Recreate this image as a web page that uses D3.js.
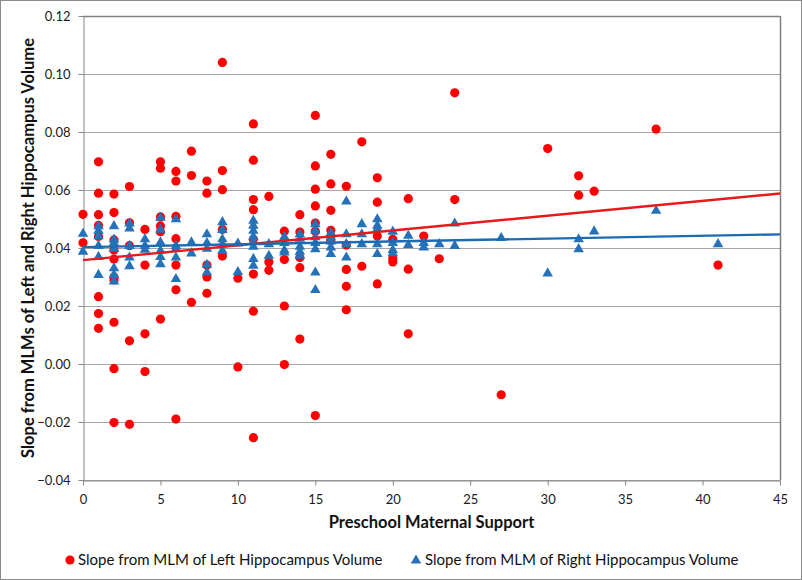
<!DOCTYPE html>
<html><head><meta charset="utf-8">
<script src="https://cdn.jsdelivr.net/npm/d3@7"></script>
<style>
html,body{margin:0;padding:0;background:#fff;}
svg{display:block;font-family:Lato,"Open Sans",sans-serif;}
</style></head>
<body><svg id="chart" width="802" height="580"></svg>
<script>
// ---- data ----
const xTicks = [0,5,10,15,20,25,30,35,40,45];
const yTicks = [-0.04,-0.02,0.00,0.02,0.04,0.06,0.08,0.10,0.12];
const seriesNames = ["Slope from MLM of Left Hippocampus Volume","Slope from MLM of Right Hippocampus Volume"];

const leftX = [0,0, 1,1,1,1,1,1,1,1, 2,2,2,2,2,2,2,2,2,2, 3,3,3,3,3, 4,4,4,4, 5,5,5,5,5,5,
  6,6,6,6,6,6,6, 7,7,7, 8,8,8,8,8, 9,9,9,9,9, 10,10, 11,11,11,11,11,11,11,11, 12,12,12,
  13,13,13,13, 14,14,14,14,14, 15,15,15,15,15,15,15, 16,16,16,16,16,16, 17,17,17,17,17,
  18,18, 19,19,19,19, 20,20,20, 21,21,21, 22, 23, 24,24, 27, 30, 32,32, 33, 37, 41];
const leftY = [0.0516,0.0418,
  0.0697,0.0589,0.0515,0.0478,0.0440,0.0232,0.0174,0.0123,
  0.0586,0.0522,0.0428,0.0393,0.0362,0.0300,0.0290,0.0144,-0.0016,-0.0202,
  0.0612,0.0487,0.0408,0.0080,-0.0208,
  0.0464,0.0341,0.0104,-0.0026,
  0.0697,0.0675,0.0507,0.0476,0.0456,0.0155,
  0.0664,0.0631,0.0509,0.0432,0.0341,0.0256,-0.0190,
  0.0734,0.0650,0.0213,
  0.0631,0.0589,0.0341,0.0300,0.0244,
  0.1040,0.0667,0.0601,0.0464,0.0372,
  0.0296,-0.0010,
  0.0828,0.0703,0.0567,0.0532,0.0430,0.0310,0.0182,-0.0254,
  0.0578,0.0352,0.0323,
  0.0458,0.0360,0.0200,-0.0002,
  0.0515,0.0455,0.0367,0.0332,0.0086,
  0.0857,0.0683,0.0603,0.0545,0.0486,0.0458,-0.0178,
  0.0723,0.0621,0.0530,0.0461,0.0440,0.0425,
  0.0613,0.0410,0.0326,0.0268,0.0187,
  0.0766,0.0337,
  0.0642,0.0558,0.0441,0.0276,
  0.0430,0.0364,0.0352,
  0.0570,0.0327,0.0104,
  0.0441, 0.0363, 0.0935,0.0567, -0.0106, 0.0743, 0.0649,0.0582, 0.0596, 0.0810, 0.0341];

const rightX = [0,0, 1,1,1,1,1,1, 2,2,2,2,2,2,2, 3,3,3,3,3, 4,4,4, 5,5,5,5,5,5, 6,6,6,6,6,
  7,7, 8,8,8,8,8, 9,9,9,9,9, 10,10, 11,11,11,11,11,11,11,11, 12,12, 13,13,13,13,
  14,14,14,14,14, 15,15,15,15,15,15,15, 16,16,16,16,16, 17,17,17,17, 18,18,18,
  19,19,19,19,19, 20,20,20,20, 21,21, 22,22, 23, 24,24, 27, 30, 32,32, 33, 37, 41];
const rightY = [0.0452,0.0390,
  0.0478,0.0462,0.0443,0.0410,0.0372,0.0310,
  0.0478,0.0432,0.0420,0.0400,0.0333,0.0310,0.0287,
  0.0487,0.0470,0.0410,0.0370,0.0340,
  0.0433,0.0410,0.0397,
  0.0507,0.0466,0.0422,0.0393,0.0372,0.0347,
  0.0502,0.0410,0.0400,0.0370,0.0296,
  0.0422,0.0384,
  0.0450,0.0420,0.0400,0.0345,0.0318,
  0.0492,0.0465,0.0433,0.0415,0.0393,
  0.0418,0.0320,
  0.0497,0.0480,0.0462,0.0442,0.0425,0.0407,0.0365,0.0342,
  0.0416,0.0376,
  0.0441,0.0420,0.0395,0.0387,
  0.0450,0.0435,0.0407,0.0390,0.0376,
  0.0485,0.0462,0.0440,0.0420,0.0399,0.0318,0.0258,
  0.0455,0.0440,0.0425,0.0405,0.0382,
  0.0563,0.0450,0.0416,0.0370,
  0.0485,0.0450,0.0416,
  0.0502,0.0480,0.0468,0.0416,0.0382,
  0.0459,0.0420,0.0396,0.0385,
  0.0445,0.0413,
  0.0420,0.0405, 0.0416, 0.0487,0.0410, 0.0437, 0.0315, 0.0433,0.0399, 0.0460, 0.0531, 0.0416];

// linear trend line endpoints
const trendLeftX = [0,45], trendLeftY = [0.0358,0.0588];
const trendRightX = [0,45], trendRightY = [0.0403,0.0447];

// ---- drawing ----
const svg = d3.select("#chart");
const W = 802, H = 580;
const m = {left:83, right:22, top:16, bottom:100};
const pw = W - m.left - m.right, ph = H - m.top - m.bottom;

svg.append("rect").attr("x",0.5).attr("y",0.5).attr("width",W-1).attr("height",H-1)
  .attr("fill","#fff").attr("stroke","#8c8c8c").attr("stroke-width",1);

const x = d3.scaleLinear().domain([0,45]).range([m.left, m.left+pw]);
const y = d3.scaleLinear().domain([-0.04,0.12]).range([m.top+ph, m.top]);

const g = svg.append("g");
// gridlines
g.selectAll("line.grid").data(yTicks).join("line")
  .attr("x1",m.left).attr("x2",m.left+pw)
  .attr("y1",d=>Math.round(y(d))+0.5).attr("y2",d=>Math.round(y(d))+0.5)
  .attr("stroke","#a6a6a6").attr("stroke-width",1);
// plot border top/right
g.append("line").attr("x1",m.left).attr("x2",m.left+pw).attr("y1",m.top+0.5).attr("y2",m.top+0.5).attr("stroke","#808080").attr("stroke-width",1.5);
g.append("line").attr("x1",m.left+pw+0.5).attr("x2",m.left+pw+0.5).attr("y1",m.top).attr("y2",m.top+ph).attr("stroke","#808080").attr("stroke-width",1.5);

// axes
const xAxis = d3.axisBottom(x).tickValues(xTicks).tickSize(5).tickSizeOuter(0).tickFormat(d3.format("d"));
const yAxis = d3.axisLeft(y).tickValues(yTicks).tickSize(5).tickSizeOuter(0).tickFormat(d3.format(".2f"));
const gx = svg.append("g").attr("transform",`translate(0,${Math.round(m.top+ph)+0.5})`).call(xAxis);
const gy = svg.append("g").attr("transform",`translate(${m.left+0.5},0)`).call(yAxis);
[gx,gy].forEach(a=>{
  a.select(".domain").attr("stroke","#868686");
  a.selectAll(".tick line").attr("stroke","#868686");
  a.selectAll(".tick text").attr("fill","#1a1a1a").attr("font-size","13px").attr("font-family","Lato, sans-serif");
});
gx.selectAll(".tick text").attr("dy","1.2em");
gy.selectAll(".tick text").attr("dx","-5px");

// markers: left (red circles)
const left = leftX.map((v,i)=>({x:v,y:leftY[i]}));
const right = rightX.map((v,i)=>({x:v,y:rightY[i]}));
const red = "#ff0000", blue = "#2672b8";
svg.append("g").selectAll("circle").data(left).join("circle")
  .attr("cx",d=>x(d.x)).attr("cy",d=>y(d.y)).attr("r",4.6).attr("fill",red);
const tri = d3.symbol().type(d3.symbolTriangle).size(48);
svg.append("g").selectAll("path").data(right).join("path")
  .attr("d",tri).attr("transform",d=>`translate(${x(d.x)},${y(d.y)+0.8})`).attr("fill",blue);

// trend lines
const line = d3.line().x(d=>x(d.x)).y(d=>y(d.y));
svg.append("path").datum(trendLeftX.map((v,i)=>({x:v,y:trendLeftY[i]})))
  .attr("d",line).attr("stroke","#e8191c").attr("stroke-width",2.4).attr("fill","none");
svg.append("path").datum(trendRightX.map((v,i)=>({x:v,y:trendRightY[i]})))
  .attr("d",line).attr("stroke","#1c6cb3").attr("stroke-width",2.4).attr("fill","none");

// axis titles
svg.append("text").attr("x",m.left+pw/2).attr("y",528).attr("text-anchor","middle")
  .attr("font-size","16.5px").attr("font-weight","bold").attr("fill","#111")
  .text("Preschool Maternal Support");
svg.append("text").attr("transform",`translate(34,${m.top+ph/2}) rotate(-90)`).attr("text-anchor","middle")
  .attr("font-size","16.5px").attr("font-weight","bold").attr("fill","#111")
  .text("Slope from MLMs of Left and Right Hippocampus Volume");

// legend
const lg = svg.append("g").attr("font-size","15px").attr("fill","#111");
lg.append("circle").attr("cx",70).attr("cy",560).attr("r",4.6).attr("fill",red);
lg.append("text").attr("x",78).attr("y",565).text(seriesNames[0]);
lg.append("path").attr("d",tri).attr("transform","translate(416,560.5)").attr("fill",blue);
lg.append("text").attr("x",425).attr("y",565).text(seriesNames[1]);
</script></body></html>
